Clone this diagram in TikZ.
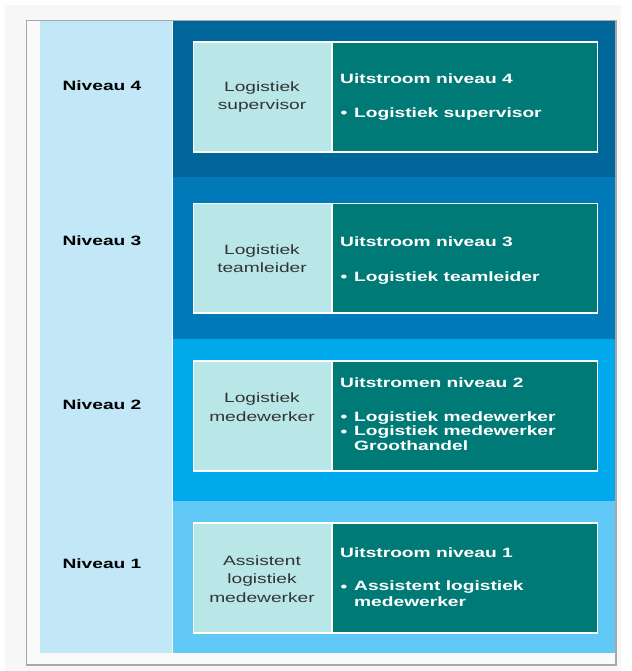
\documentclass[tikz,border=0pt]{standalone}
\usepackage{fontspec}
\setmainfont{Liberation Sans}[FakeStretch=1.42]
\definecolor{pagegrey}{HTML}{F7F7F7}
\definecolor{framegrey}{HTML}{A8A8A8}
\definecolor{colblue}{HTML}{C2E8F8}
\definecolor{bandfour}{HTML}{006699}
\definecolor{bandthree}{HTML}{007AB8}
\definecolor{bandtwo}{HTML}{00A8EC}
\definecolor{bandone}{HTML}{62C8F5}
\definecolor{lightbox}{HTML}{B9E7E8}
\definecolor{tealbox}{HTML}{007A76}
\definecolor{darktext}{HTML}{333333}
\tikzset{
  band/.style={fill=#1, draw=none},
  leftcell/.style={draw=white, line width=1.6pt, fill=lightbox},
  rightcell/.style={draw=white, line width=1.6pt, fill=tealbox},
  levellabel/.style={font=\fontsize{13.5}{16}\selectfont\bfseries, text=black, inner sep=0pt},
  roletext/.style={font=\fontsize{13.5}{18.5}\selectfont, text=darktext, align=center, inner sep=0pt},
  headtext/.style={font=\fontsize{13.5}{16}\selectfont\bfseries, text=white, anchor=west, inner sep=0pt},
  itemtext/.style={font=\fontsize{13.5}{15.5}\selectfont\bfseries, text=white, anchor=west, align=left, inner sep=0pt}
}
\begin{document}
\begin{tikzpicture}[x=1pt,y=-1pt]
\useasboundingbox (0,0) rectangle (631,671);
\fill[white] (0,0) rectangle (631,671);
\fill[pagegrey] (5,5) rectangle (621,671);
\draw[framegrey, fill=pagegrey!60!white, line width=1.3pt] (26.5,20.5) rectangle (616,665);
% left column
\fill[colblue] (40,21.2) rectangle (171.5,653);
% bands
\fill[bandfour]  (172.8,21.2) rectangle (615.3,177);
\fill[bandthree] (172.8,177) rectangle (615.3,339);
\fill[bandtwo]   (172.8,339) rectangle (615.3,501);
\fill[bandone]   (172.8,501) rectangle (615.3,653);
% level 4
\draw[leftcell]  (193.5,42) rectangle (332,152);
\draw[rightcell] (332,42) rectangle (597.5,152);
% level 3
\draw[leftcell]  (193.5,203.5) rectangle (332,313);
\draw[rightcell] (332,203.5) rectangle (597.5,313);
% level 2
\draw[leftcell]  (193.5,361) rectangle (332,471);
\draw[rightcell] (332,361) rectangle (597.5,471);
% level 1
\draw[leftcell]  (193.5,523) rectangle (332,633);
\draw[rightcell] (332,523) rectangle (597.5,633);
% level labels
\node[levellabel] (n4) at (102,85.5) {Niveau 4};
\node[levellabel] (n3) at (102,240.5) {Niveau 3};
\node[levellabel] (n2) at (102,404.5) {Niveau 2};
\node[levellabel] (n1) at (102,563.5) {Niveau 1};
% role texts
\node[roletext] (r4) at (262,97) {Logistiek\\supervisor};
\node[roletext] (r3) at (262,258.5) {Logistiek\\teamleider};
\node[roletext] (r2) at (262,407) {Logistiek\\medewerker};
\node[roletext] (r1) at (262,579) {Assistent\\logistiek\\medewerker};
% outflow texts level 4
\node[headtext] (h4) at (340,79) {Uitstroom niveau 4};
\node[headtext] (b4) at (340.5,114) {•};
\node[itemtext] (i4) at (354,114) {Logistiek supervisor};
% level 3
\node[headtext] (h3) at (340,242) {Uitstroom niveau 3};
\node[headtext] (b3) at (340.5,278) {•};
\node[itemtext] (i3) at (354,278) {Logistiek teamleider};
% level 2
\node[headtext] (h2) at (340,383) {Uitstromen niveau 2};
\node[headtext] (b2a) at (340.5,418) {•};
\node[itemtext] (i2a) at (354,418) {Logistiek medewerker};
\node[headtext] (b2b) at (340.5,433) {•};
\node[itemtext, anchor=north west] (i2b) at (354,426) {Logistiek medewerker\\[-0.6pt]Groothandel};
% level 1
\node[headtext] (h1) at (340,553) {Uitstroom niveau 1};
\node[headtext] (b1) at (340.5,588) {•};
\node[itemtext, anchor=north west] (i1) at (354,581) {Assistent logistiek\\medewerker};
\end{tikzpicture}
\end{document}
